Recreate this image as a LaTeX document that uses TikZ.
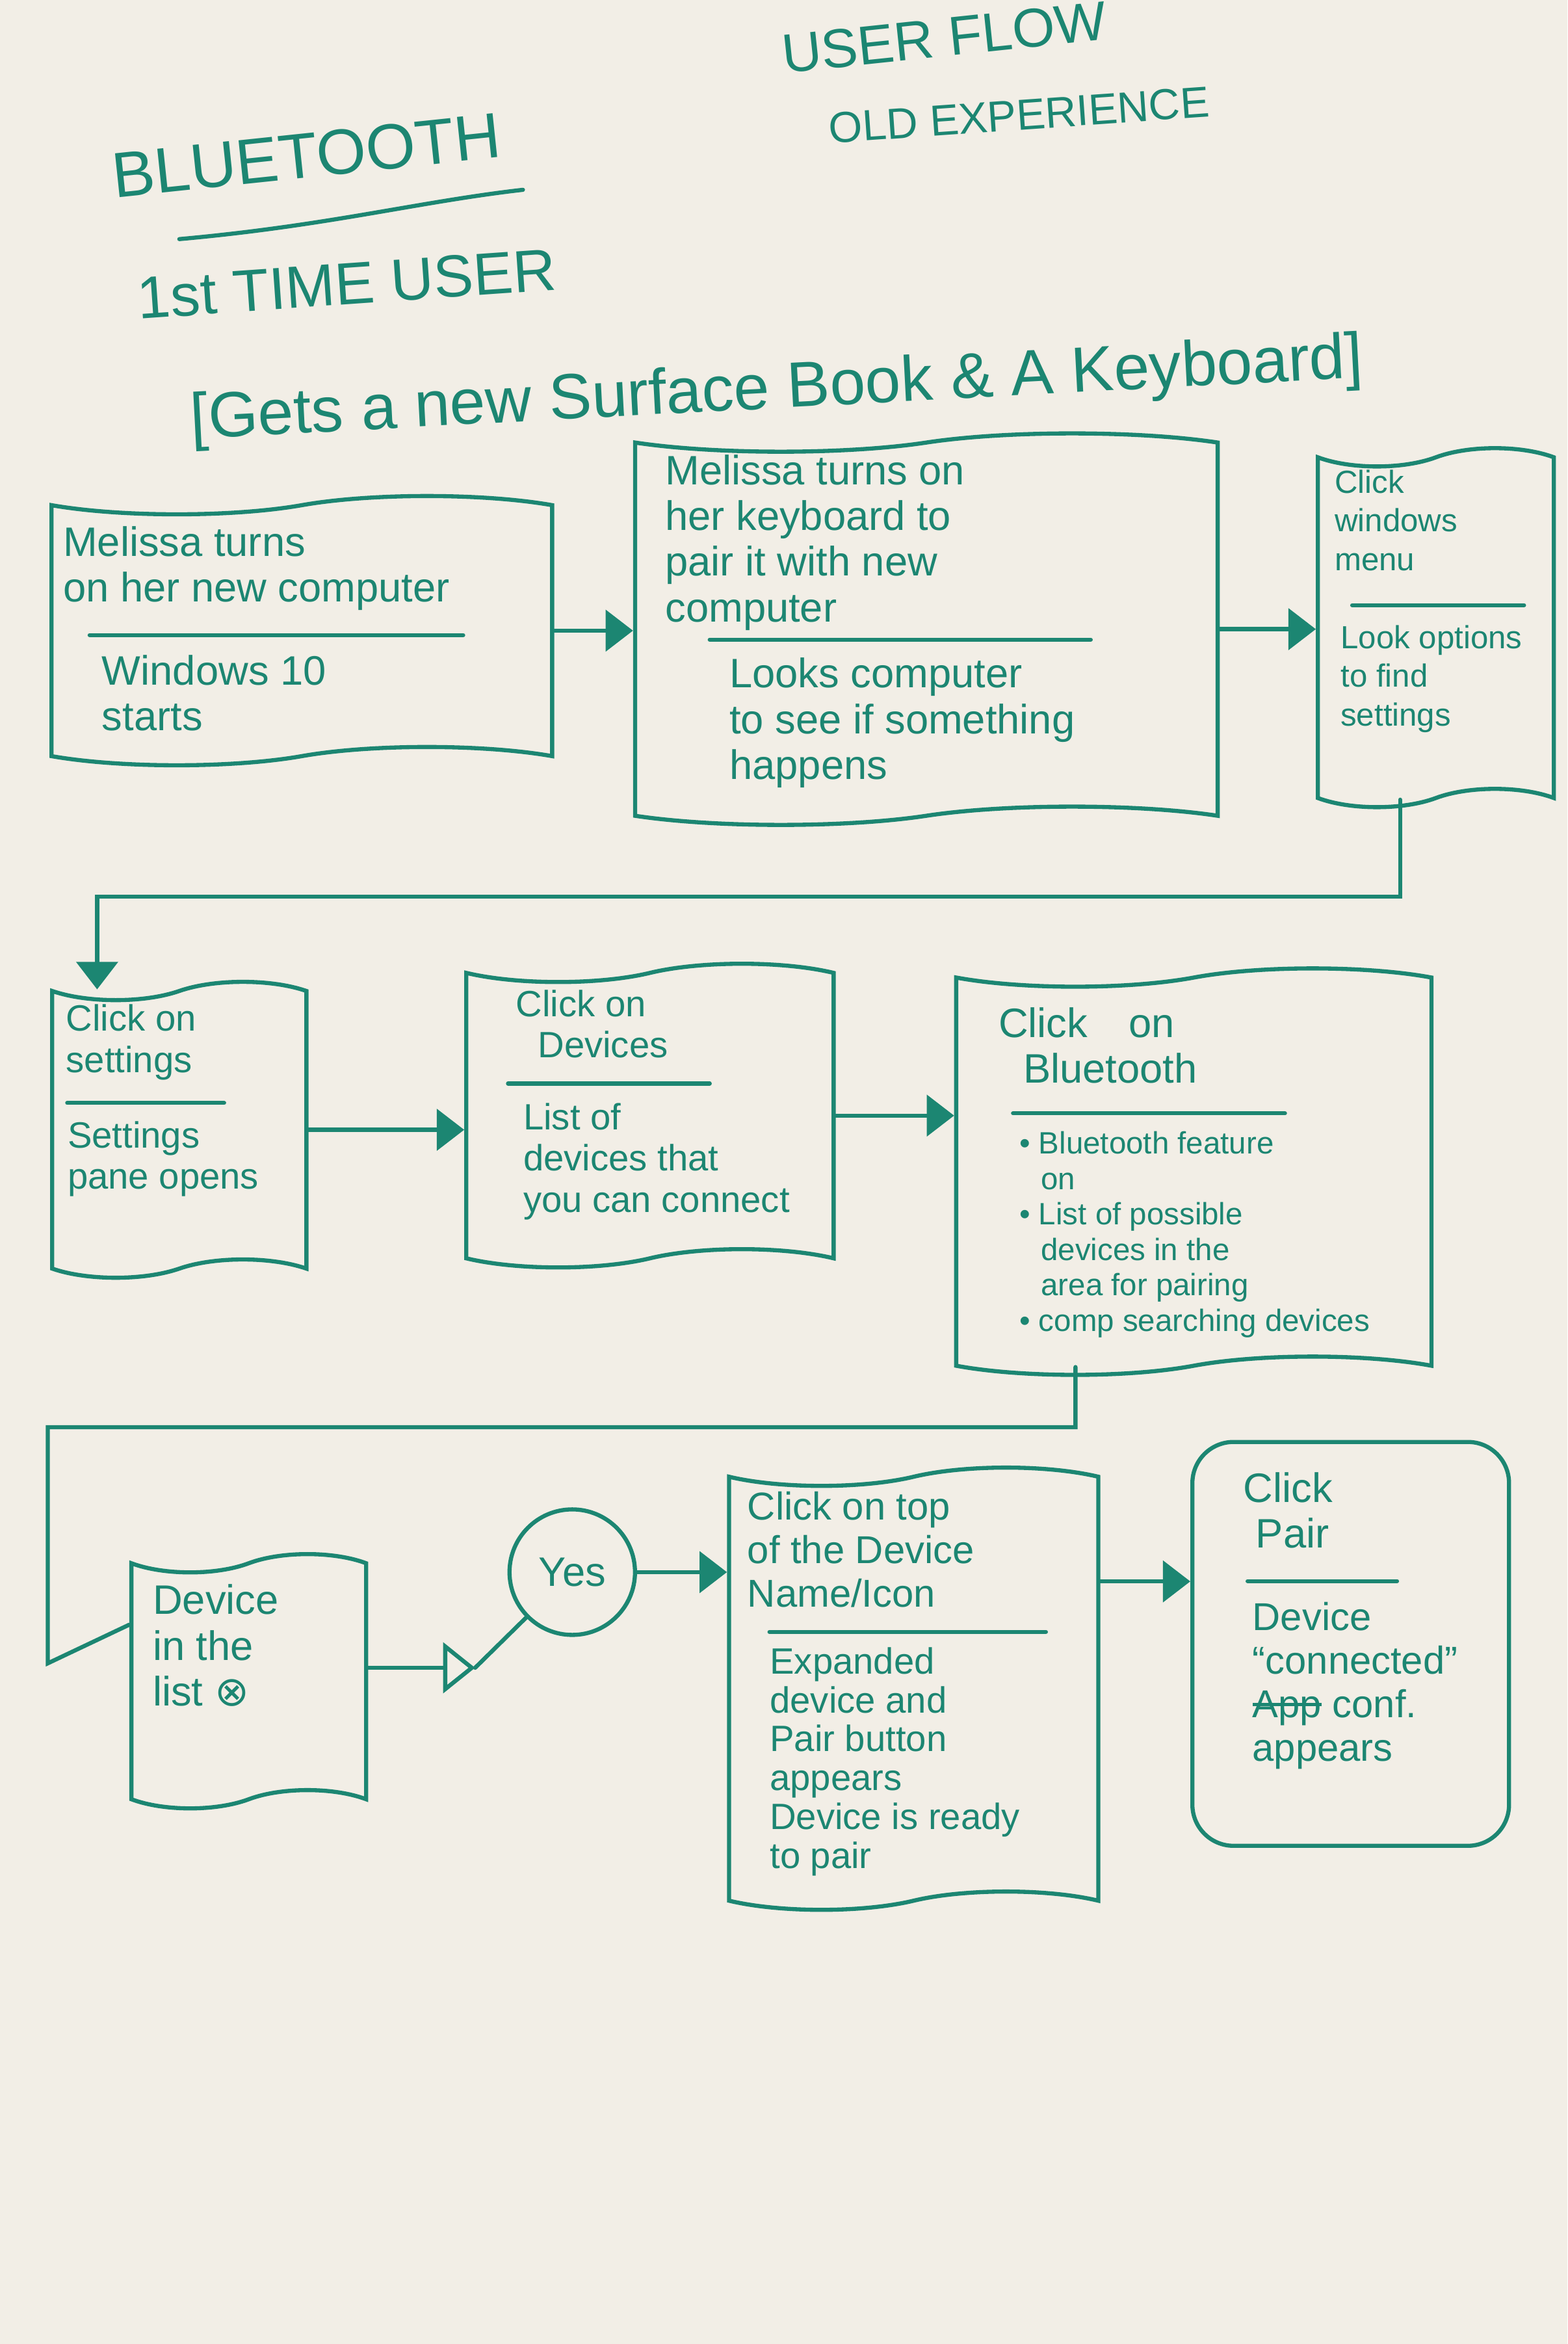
\documentclass[tikz,border=0pt]{standalone}
\usepackage{fontspec}
\setmainfont{Liberation Sans}
\newfontfamily\symfont{DejaVu Sans}
\usetikzlibrary{arrows.meta,shapes.symbols}
\definecolor{ink}{RGB}{28,134,114}
\definecolor{paper}{RGB}{242,238,230}
\newcommand{\penfont}[2]{\fontsize{#1}{#2}\selectfont}
\newsavebox{\strikebox}
\newcommand{\strikeword}[1]{\sbox\strikebox{#1}\rlap{\rule[0.3em]{\wd\strikebox}{1.4pt}}\usebox\strikebox}
\tikzset{
  pen/.style={draw=ink, line width=1.8pt, line cap=round},
  card/.style={pen, shape=tape, tape bend top=in and out, tape bend bottom=in and out, tape bend height=8pt, inner sep=0pt},
  roundcard/.style={pen, rectangle, rounded corners=18pt, inner sep=0pt},
  note/.style={text=ink, anchor=north west, align=left, inner sep=0pt},
  flow/.style={pen, -{Triangle[length=12pt,width=18pt]}},
  openflow/.style={pen, -{Triangle[open,length=14pt,width=22pt]}},
}
\begin{document}
\begin{tikzpicture}[x=0.022984cm, y=-0.022984cm]

      \fill[paper] (0,0) rectangle (1049,1568.5);

      \node[note, anchor=center, rotate=6, font=\penfont{24}{26}] (userflow) at (632,25) {USER FLOW};
      \node[note, anchor=center, rotate=4, font=\penfont{19}{21}] (oldexp) at (682,77) {OLD EXPERIENCE};
      \node[note, anchor=center, rotate=6, font=\penfont{28}{30}] (bluetooth) at (205,104) {BLUETOOTH};
      \draw[pen] (120,160) .. controls (220,151) and (280,135) .. (350,127);
      \node[note, anchor=center, rotate=4, font=\penfont{26}{28}] (firsttime) at (232,190) {1st TIME USER};
      \node[note, anchor=center, rotate=3, font=\penfont{28}{30}] (gets) at (520,262) {[Gets a new Surface Book \& A Keyboard]};

      \node[card, minimum width=7.70cm, minimum height=4.14cm] (box1) at (202,422) {};
      \node[note, font=\penfont{18}{20}] (b1title) at (42,352) {Melissa turns\\on her new computer};
      \draw[pen] (60,425) -- (310,425);
      \node[note, font=\penfont{18}{20}] (b1body) at (68,438) {Windows 10\\starts};

      \node[card, minimum width=8.96cm, minimum height=6.02cm] (box2) at (620,421) {};
      \node[note, font=\penfont{18}{20}] (b2title) at (445,304) {Melissa turns on\\her keyboard to\\pair it with new\\computer};
      \draw[pen] (475,428) -- (730,428);
      \node[note, font=\penfont{18}{20}] (b2body) at (488,440) {Looks computer\\to see if something\\happens};

      \node[card, minimum width=3.63cm, minimum height=5.52cm] (box3) at (961,420) {};
      \node[note, font=\penfont{14}{17}] (b3title) at (893,314) {Click\\windows\\menu};
      \draw[pen] (905,405) -- (1020,405);
      \node[note, font=\penfont{14}{17}] (b3body) at (897,418) {Look options\\to find\\settings};

      \node[card, minimum width=3.91cm, minimum height=4.55cm] (box4) at (120,756) {};
      \node[note, font=\penfont{16}{18}] (b4title) at (44,672) {Click on\\settings};
      \draw[pen] (45,738) -- (150,738);
      \node[note, font=\penfont{16}{18}] (b4body) at (45,750) {Settings\\pane opens};

      \node[card, minimum width=5.65cm, minimum height=4.67cm] (box5) at (435,746.5) {};
      \node[note, font=\penfont{16}{18}] (b5title) at (345,662) {Click on\\\hspace*{0.6em}Devices};
      \draw[pen] (340,725) -- (475,725);
      \node[note, font=\penfont{16}{18}] (b5body) at (350,738) {List of\\devices that\\you can connect};

      \node[card, minimum width=7.31cm, minimum height=6.25cm] (box6) at (799,784) {};
      \node[note, font=\penfont{18}{20}] (b6title) at (668,674) {Click\hspace{1em}on\\\hspace*{0.6em}Bluetooth};
      \draw[pen] (678,745) -- (860,745);
      \node[note, font=\penfont{13.5}{15.5}] (b6body) at (682,757) {• Bluetooth feature\\\hspace*{0.7em}on\\• List of possible\\\hspace*{0.7em}devices in the\\\hspace*{0.7em}area for pairing\\• comp searching devices};

      \node[card, minimum width=3.61cm, minimum height=3.91cm] (box7) at (166.5,1125) {};
      \node[note, font=\penfont{18}{20}] (b7text) at (102,1060) {Device\\in the\\list {\symfont ⊗}};

      \node[pen, circle, text=ink, minimum size=1.93cm, inner sep=0pt, font=\penfont{18}{20}] (yes) at (383,1052) {Yes};

      \node[card, minimum width=5.68cm, minimum height=6.80cm] (box8) at (611.5,1130) {};
      \node[note, font=\penfont{17}{19}] (b8title) at (500,998) {Click on top\\of the Device\\Name/Icon};
      \draw[pen] (515,1092) -- (700,1092);
      \node[note, font=\penfont{16}{17}] (b8body) at (515,1102) {Expanded\\device and\\Pair button\\appears\\Device is ready\\to pair};

      \node[roundcard, minimum width=4.87cm, minimum height=6.21cm] (box9) at (904,1100) {};
      \node[note, font=\penfont{18}{20}] (b9title) at (832,985) {Click\\\hspace*{0.3em}Pair};
      \draw[pen] (835,1058) -- (935,1058);
      \node[note, font=\penfont{17}{19}] (b9body) at (838,1072) {Device\\“connected”\\\strikeword{App} conf.\\appears};

      \draw[flow] (box1.east) -- (box1.east -| box2.west);
      \draw[flow] (box2.east) -- (box2.east -| box3.west);

      \coordinate (turn1) at (65,600);
      \draw[flow] ([xshift=-0.55cm]box3.south) |- (turn1) -- (turn1 |- box4.north);

      \draw[flow] (box4.east) -- (box4.east -| box5.west);
      \draw[flow] (box5.east) -- (box5.east -| box6.west);

      \coordinate (turn2) at (32,955);
      \coordinate (turn3) at (32,1113);
      \draw[pen] ([xshift=-1.82cm]box6.south) |- (turn2) -- (turn3) -- ([yshift=0.87cm]box7.west);

      \coordinate (bend) at (318,1116);
      \draw[openflow] (box7.east |- bend) -- (bend);
      \draw[pen] (bend) -- (yes);
      \draw[flow] (yes.east) -- (yes.east -| box8.west);

      \draw[flow] ([yshift=1.65cm]box8.east) -- ([yshift=1.65cm]box8.east -| box9.west);

\end{tikzpicture}
\end{document}
